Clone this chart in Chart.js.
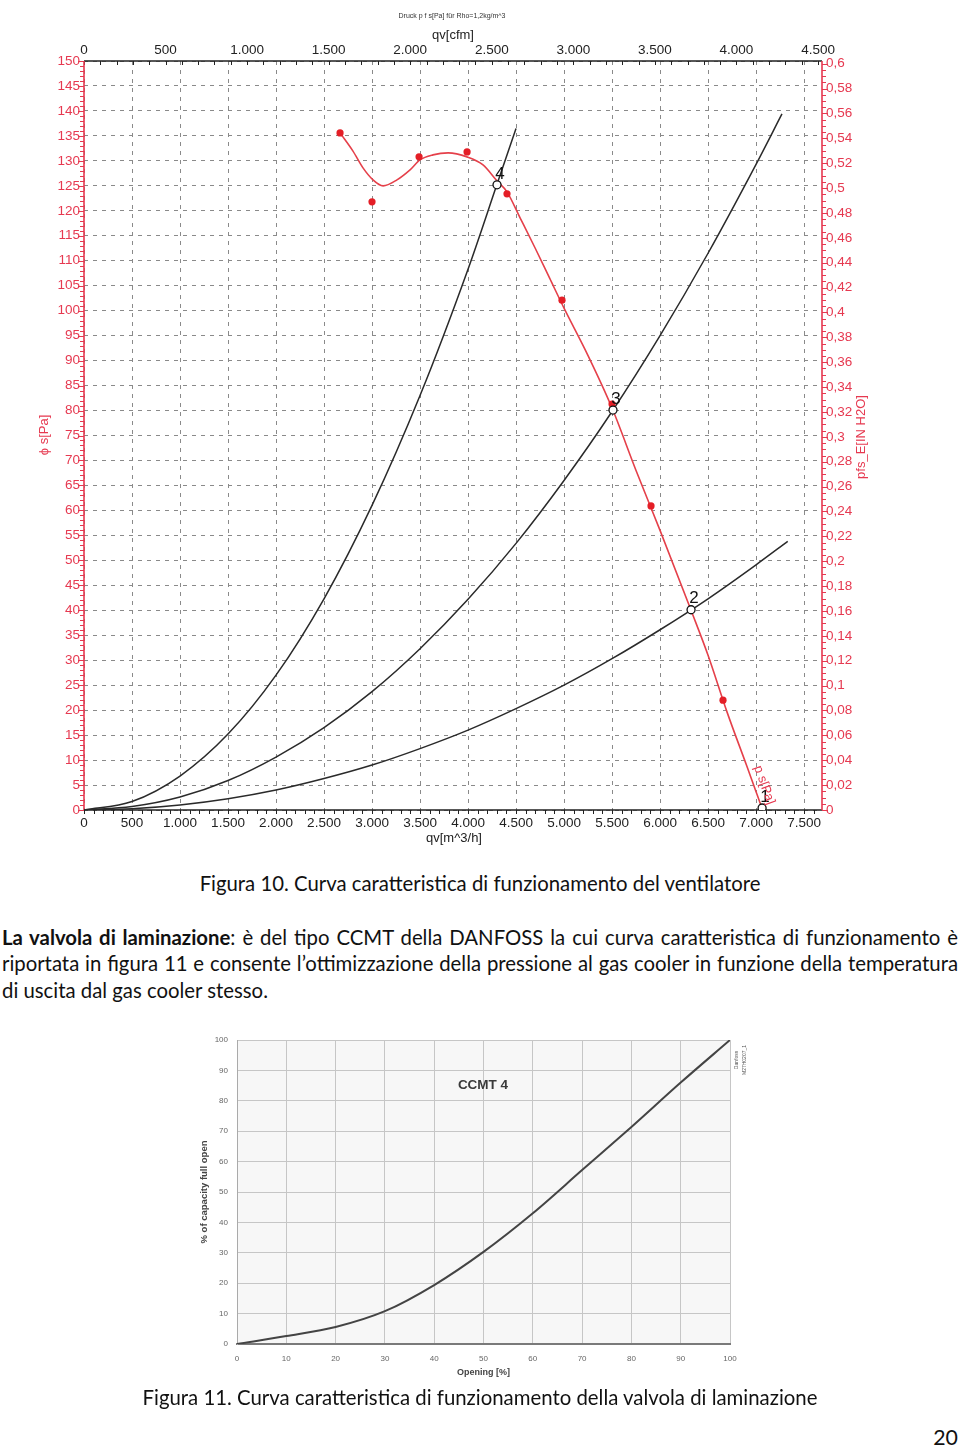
<!DOCTYPE html>
<html><head><meta charset="utf-8">
<script src="https://cdn.jsdelivr.net/npm/chart.js@4.4.1/dist/chart.umd.min.js"></script>
<style>
html,body{margin:0;padding:0;background:#fff;}
body{width:960px;height:1448px;position:relative;overflow:hidden;font-family:Lato,'Open Sans',sans-serif;color:#111;}
canvas{position:absolute;}
#c1{left:0;top:0;}
#c2{left:180px;top:1025px;}
.cap{position:absolute;left:0;width:960px;text-align:center;white-space:nowrap;}
.cap span{display:inline-block;}
.pl{position:absolute;left:2px;width:956px;text-align:justify;text-align-last:justify;}
#l3{text-align-last:left;}
#pg{position:absolute;right:2px;white-space:nowrap;}
</style></head><body>
<canvas id="c1" width="960" height="860"></canvas>
<canvas id="c2" width="600" height="365"></canvas>
<div class="cap" id="cap1"><span>Figura 10. Curva caratteristica di funzionamento del ventilatore</span></div>
<div class="pl" id="l1"><b>La valvola di laminazione</b>: è del tipo CCMT della DANFOSS la cui curva caratteristica di funzionamento è</div>
<div class="pl" id="l2">riportata in figura 11 e consente l’ottimizzazione della pressione al gas cooler in funzione della temperatura</div>
<div class="pl" id="l3"><span id="l3s">di uscita dal gas cooler stesso.</span></div>
<div class="cap" id="cap2"><span>Figura 11. Curva caratteristica di funzionamento della valvola di laminazione</span></div>
<div id="pg">20</div>
<script>
// ---------- DATA: fan chart ----------
const qvTicks  = [0,500,1000,1500,2000,2500,3000,3500,4000,4500,5000,5500,6000,6500,7000,7500];
const cfmTicks = [0,500,1000,1500,2000,2500,3000,3500,4000,4500];
const paTicks  = [0,5,10,15,20,25,30,35,40,45,50,55,60,65,70,75,80,85,90,95,100,105,110,115,120,125,130,135,140,145,150];
const inTicks  = [0,0.02,0.04,0.06,0.08,0.1,0.12,0.14,0.16,0.18,0.2,0.22,0.24,0.26,0.28,0.3,0.32,0.34,0.36,0.38,0.4,0.42,0.44,0.46,0.48,0.5,0.52,0.54,0.56,0.58,0.6];

const qvSysA = [0,500,1000,1500,2000,2500,3000,3500,4000,4300,4500];
const psSysA = [0,1.7,6.8,15.2,27.0,42.3,61.0,83.0,108.3,125.2,136.5];
const qvSysB = [0,500,1000,1500,2000,2500,3000,3500,4000,4500,5000,5500,6000,6500,7000,7270];
const psSysB = [0,0.7,2.6,5.9,10.6,16.5,23.7,32.3,42.2,53.4,66.0,79.8,95.0,111.5,129.3,139.4];
const qvSysC = [0,500,1000,1500,2000,2500,3000,3500,4000,4500,5000,5500,6000,6500,7000,7330];
const psSysC = [0,0.25,1.0,2.25,4.0,6.3,9.0,12.3,16.0,20.3,25.0,30.3,36.1,42.3,49.1,53.8];

const qvFan = [2667,2800,2906,3010,3115,3260,3396,3500,3635,3792,3990,4156,4302,4406,4542,4700,4850,5000,5250,5500,5750,6000,6323,6500,6700,6900,7063];
const psFan = [135.6,132.0,128.6,126.2,125.0,126.2,128.2,130.2,131.2,131.6,130.8,129.2,126.0,123.8,118.6,112.5,106.5,100.5,91.0,80.5,68.0,56.0,40.0,31.0,19.5,9.0,0.3];
const qvDots = [2667,3000,3490,3990,4406,4979,5500,5906,6656];
const psDots = [135.6,121.8,130.8,131.8,123.4,102.1,81.3,60.9,22.0];
const qvOp = [7063,6323,5510,4302];
const psOp = [0.4,40.1,80.1,125.2];
const opLabels = ['1','2','3','4'];

// ---------- DATA: valve chart ----------
const openTicks = [0,10,20,30,40,50,60,70,80,90,100];
const capTicks  = [0,10,20,30,40,50,60,70,80,90,100];
const openPct = [0,10,20,30,40,50,60,70,80,90,100];
const capPct  = [0,2.6,5.6,10.8,19.4,30.3,43.0,57.2,71.4,86.0,100];

// ---------- helpers ----------
const F = "'Liberation Sans', Arial, sans-serif";
const RED = '#e63950';
const pts = (xs, ys) => xs.map((x, i) => ({x: x, y: ys[i]}));
const fmtDot = v => { v = Math.round(v); return v >= 1000 ? Math.floor(v/1000) + '.' + String(v % 1000).padStart(3,'0') : String(v); };
const fmtComma = v => Math.abs(v) < 1e-9 ? '0' : String(+v.toFixed(2)).replace('.', ',');
const setTicks = arr => s => { s.ticks = arr.map(v => ({value: v})); };

const frame1 = {
  id: 'frame1',
  beforeDatasetsDraw(chart) {
    const {ctx, chartArea: a, scales: s} = chart;
    ctx.save();
    ctx.lineWidth = 1;
    ctx.strokeStyle = '#222';
    ctx.beginPath();
    for (let v = 0; v <= 7650; v += 100) { const p = Math.round(s.x.getPixelForValue(v)) + 0.5; ctx.moveTo(p, a.bottom); ctx.lineTo(p, a.bottom + 4); }
    for (let v = 0; v <= 4520; v += 100) { const p = Math.round(s.x2.getPixelForValue(v)) + 0.5; ctx.moveTo(p, a.top); ctx.lineTo(p, a.top + 4); }
    ctx.stroke();
    ctx.strokeStyle = RED;
    ctx.beginPath();
    for (let v = 0; v <= 150; v += 1) { const p = Math.round(s.y.getPixelForValue(v)) + 0.5; const l = v % 5 === 0 ? 6 : 4; ctx.moveTo(a.left, p); ctx.lineTo(a.left - l, p); }
    for (let k = 0; k <= 120; k++) { const v = k * 0.005; const p = Math.round(s.y2.getPixelForValue(v)) + 0.5; const l = k % 4 === 0 ? 6 : 4; ctx.moveTo(a.right, p); ctx.lineTo(a.right + l, p); }
    ctx.stroke();
    ctx.lineWidth = 1.6;
    ctx.strokeStyle = '#222';
    ctx.beginPath(); ctx.moveTo(a.left, a.top); ctx.lineTo(a.right, a.top); ctx.moveTo(a.left, a.bottom); ctx.lineTo(a.right, a.bottom); ctx.stroke();
    ctx.strokeStyle = RED;
    ctx.beginPath(); ctx.moveTo(a.left, a.top); ctx.lineTo(a.left, a.bottom); ctx.moveTo(a.right, a.top); ctx.lineTo(a.right, a.bottom); ctx.stroke();
    ctx.restore();
  },
  afterDatasetsDraw(chart) {
    const {ctx, chartArea: a, scales: s} = chart;
    ctx.save();
    const meta = chart.getDatasetMeta(0);
    ctx.fillStyle = '#111';
    ctx.font = '17px ' + F;
    ctx.textAlign = 'center'; ctx.textBaseline = 'middle';
    meta.data.forEach((el, i) => { ctx.fillText(opLabels[i], el.x + 3, el.y - 11); });
    ctx.save();
    ctx.translate(s.x.getPixelForValue(7085), s.y.getPixelForValue(5));
    ctx.rotate(70 * Math.PI / 180);
    ctx.fillStyle = RED; ctx.font = '13px ' + F;
    ctx.fillText('p s[Pa]', 0, 0);
    ctx.restore();
    ctx.fillStyle = '#333'; ctx.font = '7px ' + F;
    ctx.fillText('Druck p f s[Pa] für Rho=1,2kg/m^3', 452, 16);
    ctx.fillStyle = '#222'; ctx.font = '13px ' + F;
    ctx.fillText('qv[cfm]', 453, 35);
    ctx.fillText('qv[m^3/h]', 454, 838);
    ctx.fillStyle = RED;
    ctx.save(); ctx.translate(44, 435); ctx.rotate(-Math.PI / 2); ctx.fillText('ϕ s[Pa]', 0, 0); ctx.restore();
    ctx.save(); ctx.translate(861, 437); ctx.rotate(-Math.PI / 2); ctx.fillText('pfs_E[IN H2O]', 0, 0); ctx.restore();
    ctx.restore();
  }
};

const sysStyle = {showLine: true, borderColor: '#2a2a2a', borderWidth: 1.5, pointRadius: 0, cubicInterpolationMode: 'monotone', xAxisID: 'x', yAxisID: 'y'};

new Chart(document.getElementById('c1'), {
  type: 'scatter',
  data: {datasets: [
    {data: pts(qvOp, psOp), pointRadius: 4, pointBackgroundColor: '#fff', pointBorderColor: '#111', pointBorderWidth: 1.3, showLine: false, xAxisID: 'x', yAxisID: 'y'},
    {data: pts(qvDots, psDots), pointRadius: 3.6, pointBackgroundColor: '#e41e26', pointBorderColor: '#e41e26', pointBorderWidth: 0, showLine: false, xAxisID: 'x', yAxisID: 'y'},
    {data: pts(qvFan, psFan), showLine: true, borderColor: '#e5404a', borderWidth: 1.6, pointRadius: 0, cubicInterpolationMode: 'monotone', xAxisID: 'x', yAxisID: 'y'},
    Object.assign({data: pts(qvSysA, psSysA)}, sysStyle),
    Object.assign({data: pts(qvSysB, psSysB)}, sysStyle),
    Object.assign({data: pts(qvSysC, psSysC)}, sysStyle)
  ]},
  options: {
    responsive: false, animation: false, events: [],
    layout: {padding: 0},
    plugins: {legend: {display: false}, tooltip: {enabled: false}, title: {display: false}},
    scales: {
      x: {type: 'linear', axis: 'x', position: 'bottom', min: 0, max: 7687,
          afterBuildTicks: setTicks(qvTicks), afterFit: s => { s.height = 50; },
          ticks: {color: '#222', font: {family: F, size: 13.5}, padding: 5, maxRotation: 0, autoSkip: false, callback: v => fmtDot(v)},
          grid: {color: '#8a8a8a', lineWidth: 1, drawTicks: false}, border: {display: false, dash: [4, 5]}},
      x2: {type: 'linear', axis: 'x', position: 'top', min: 0, max: 4524.4,
          afterBuildTicks: setTicks(cfmTicks), afterFit: s => { s.height = 61; },
          ticks: {color: '#222', font: {family: F, size: 13.5}, padding: 3, maxRotation: 0, autoSkip: false, callback: v => fmtDot(v)},
          grid: {display: false, drawTicks: false}, border: {display: false}},
      y: {type: 'linear', axis: 'y', position: 'left', min: 0, max: 150,
          afterBuildTicks: setTicks(paTicks), afterFit: s => { s.width = 84; },
          ticks: {color: RED, font: {family: F, size: 13.5}, padding: 4, autoSkip: false, callback: v => String(v)},
          grid: {color: '#8a8a8a', lineWidth: 1, drawTicks: false}, border: {display: false, dash: [4, 5]}},
      y2: {type: 'linear', axis: 'y', position: 'right', min: 0, max: 0.6022,
          afterBuildTicks: setTicks(inTicks), afterFit: s => { s.width = 138; },
          ticks: {color: RED, font: {family: F, size: 13.5}, padding: 4, autoSkip: false, callback: v => fmtComma(v)},
          grid: {display: false, drawTicks: false}, border: {display: false}}
    }
  },
  plugins: [frame1]
});

const deco2 = {
  id: 'deco2',
  beforeDraw(chart) {
    const {ctx, chartArea: a} = chart;
    ctx.save(); ctx.fillStyle = '#f7f7f7'; ctx.fillRect(a.left, a.top, a.right - a.left, a.bottom - a.top); ctx.restore();
  },
  afterDraw(chart) {
    const {ctx, chartArea: a} = chart;
    ctx.save();
    ctx.textAlign = 'center'; ctx.textBaseline = 'middle';
    ctx.fillStyle = '#444'; ctx.font = 'bold 9px ' + F;
    ctx.fillText('Opening [%]', (a.left + a.right) / 2, 348);
    ctx.save(); ctx.translate(24, 167); ctx.rotate(-Math.PI / 2); ctx.font = 'bold 9.5px ' + F; ctx.fillText('% of capacity full open', 0, 0); ctx.restore();
    ctx.fillStyle = '#3a3a3a'; ctx.font = 'bold 13.5px ' + F;
    ctx.fillText('CCMT 4', 303, 60);
    ctx.fillStyle = '#555'; ctx.font = '5px ' + F;
    ctx.save(); ctx.translate(557, 35); ctx.rotate(-Math.PI / 2); ctx.fillText('Danfoss', 0, 0); ctx.restore();
    ctx.save(); ctx.translate(565, 35); ctx.rotate(-Math.PI / 2); ctx.fillText('M27H0207_1', 0, 0); ctx.restore();
    ctx.restore();
  }
};

new Chart(document.getElementById('c2'), {
  type: 'scatter',
  data: {datasets: [
    {data: pts(openPct, capPct), showLine: true, borderColor: '#444', borderWidth: 2, pointRadius: 0, cubicInterpolationMode: 'monotone'}
  ]},
  options: {
    responsive: false, animation: false, events: [],
    layout: {padding: {top: 15, right: 50, left: 0, bottom: 0}},
    plugins: {legend: {display: false}, tooltip: {enabled: false}},
    scales: {
      x: {type: 'linear', min: 0, max: 100, afterBuildTicks: setTicks(openTicks), afterFit: s => { s.height = 46; },
          ticks: {color: '#666', font: {family: F, size: 8}, padding: 10, maxRotation: 0, autoSkip: false},
          grid: {color: '#c6c6c6', lineWidth: 1, drawTicks: false}, border: {color: '#7a7a7a', width: 2}},
      y: {type: 'linear', min: 0, max: 100, afterBuildTicks: setTicks(capTicks), afterFit: s => { s.width = 57; },
          ticks: {color: '#666', font: {family: F, size: 8}, padding: 9, autoSkip: false},
          grid: {color: '#c6c6c6', lineWidth: 1, drawTicks: false}, border: {color: '#aaa', width: 1}}
    }
  },
  plugins: [deco2]
});

// ---------- text fitting ----------
function natural(el, fs) { el.style.fontSize = fs + 'px'; return el.getBoundingClientRect().width; }
function placeCap(id, target, cy) {
  const d = document.getElementById(id), s = d.firstChild;
  const w = natural(s, 20); const fs = 20 * target / w;
  s.style.fontSize = fs + 'px'; d.style.fontSize = fs + 'px';
  d.style.lineHeight = (fs * 1.3) + 'px'; d.style.top = (cy - fs * 0.65) + 'px';
  return fs;
}
placeCap('cap1', 561, 883);
placeCap('cap2', 675, 1397);
const s3 = document.getElementById('l3s');
const w3 = natural(s3, 20); const fsP = 20 * 266 / w3;
s3.style.fontSize = '';
[['l1', 937], ['l2', 963], ['l3', 990]].forEach(([id, cy]) => {
  const d = document.getElementById(id);
  d.style.fontSize = fsP + 'px'; d.style.lineHeight = (fsP * 1.3) + 'px'; d.style.top = (cy - fsP * 0.65) + 'px';
});
const pg = document.getElementById('pg');
pg.style.fontSize = (fsP * 1.05) + 'px'; pg.style.lineHeight = (fsP * 1.3) + 'px'; pg.style.top = (1437 - fsP * 0.65) + 'px';
</script>
</body></html>
